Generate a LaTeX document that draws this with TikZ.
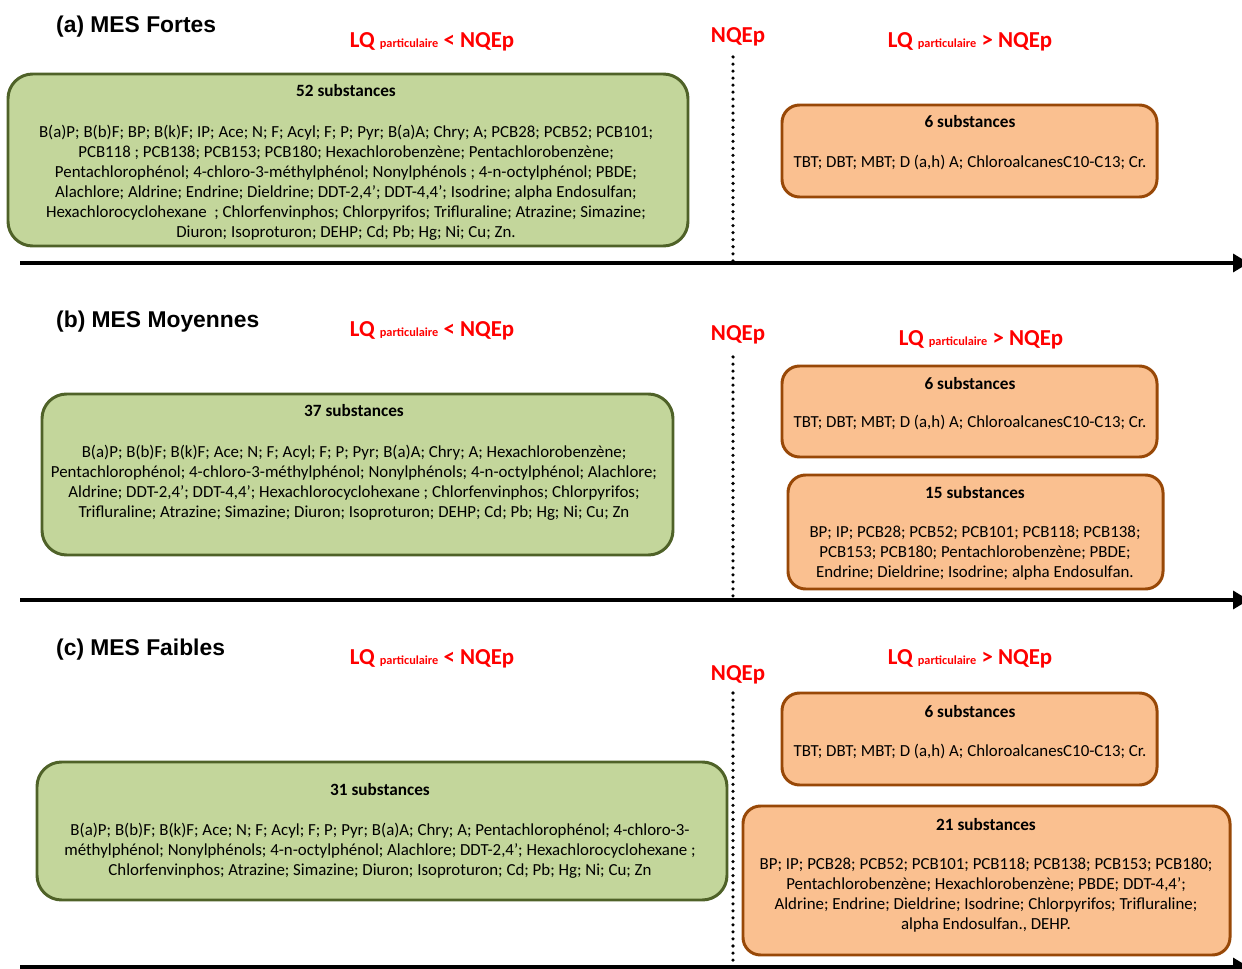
\documentclass[tikz,border=0pt]{standalone}
\usepackage{fontspec}
\setmainfont{Carlito}
\newfontfamily\headfont{Liberation Sans}
\usepackage{xcolor}
\usetikzlibrary{arrows.meta,positioning,fit}

\definecolor{boxgreen}{HTML}{C3D69B}
\definecolor{linegreen}{HTML}{4F6228}
\definecolor{boxorange}{HTML}{FAC090}
\definecolor{lineorange}{HTML}{984807}
\definecolor{lqred}{HTML}{FF0000}

\newcommand{\lqbelow}{LQ {\fontsize{7}{8}\selectfont particulaire} < NQEp}
\newcommand{\lqabove}{LQ {\fontsize{7}{8}\selectfont particulaire} > NQEp}
\newcommand{\sixsubst}{TBT; DBT; MBT; D (a,h) A; ChloroalcanesC10-C13; Cr.}

\begin{document}
\begin{tikzpicture}[
  x=0.02cm, y=-0.02cm,
  gbox/.style={draw=linegreen, fill=boxgreen, line width=1.7pt, rounded corners=14pt, inner sep=0pt},
  obox/.style={draw=lineorange, fill=boxorange, line width=1.7pt, rounded corners=10pt, inner sep=0pt},
  ttl/.style={font=\bfseries\fontsize{9.8}{11}\selectfont},
  body/.style={align=center, font=\fontsize{9.6}{11.4}\selectfont},
  head/.style={anchor=west, font=\headfont\bfseries\fontsize{13}{15}\selectfont},
  lqlbl/.style={text=lqred, font=\bfseries\fontsize{13}{15}\selectfont},
  axisarr/.style={-{Triangle[length=9pt,width=10pt]}, line width=2.8pt},
  limit/.style={dash pattern=on 0pt off 4pt, line cap=round, line width=2pt}
]
\useasboundingbox (0,0) rectangle (1242,969);

% (a) MES Fortes
\node[head] (ha) at (50,27) {(a) MES Fortes};
\node[lqlbl] (lqa1) at (432,42) {\lqbelow};
\node[lqlbl] (nqa) at (738,37) {NQEp};
\node[lqlbl] (lqa2) at (970,42) {\lqabove};
\coordinate (axa0) at (20,263);
\coordinate (axa1) at (1249,263);
\coordinate (dta0) at (733,57);
\coordinate (dta1) at (733,263);
\draw[limit] (dta0) -- (dta1);
\draw[axisarr] (axa0) -- (axa1);

\node[gbox, fit={(8,74) (688,246)}] (ga) {};
\node[ttl] (gat) at (346,91) {52 substances};
\node[body] (gab) at (346,183) {B(a)P; B(b)F; BP; B(k)F; IP; Ace; N; F; Acyl; F; P; Pyr; B(a)A; Chry; A; PCB28; PCB52; PCB101;\\
  PCB118 ; PCB138; PCB153; PCB180; Hexachlorobenzène; Pentachlorobenzène;\\
  Pentachlorophénol; 4-chloro-3-méthylphénol; Nonylphénols ; 4-n-octylphénol; PBDE;\\
  Alachlore; Aldrine; Endrine; Dieldrine; DDT-2,4’; DDT-4,4’; Isodrine; alpha Endosulfan;\\
  Hexachlorocyclohexane\ \ ; Chlorfenvinphos; Chlorpyrifos; Trifluraline; Atrazine; Simazine;\\
  Diuron; Isoproturon; DEHP; Cd; Pb; Hg; Ni; Cu; Zn.};

\node[obox, fit={(782,105) (1157,197)}] (oa) {};
\node[ttl] (oat) at (970,122) {6 substances};
\node[body] (oab) at (970,163) {\sixsubst};

% (b) MES Moyennes
\node[head] (hb) at (50,322) {(b) MES Moyennes};
\node[lqlbl] (lqb1) at (432,331) {\lqbelow};
\node[lqlbl] (nqb) at (738,335) {NQEp};
\node[lqlbl] (lqb2) at (981,340) {\lqabove};
\coordinate (axb0) at (20,600);
\coordinate (axb1) at (1249,600);
\coordinate (dtb0) at (733,357);
\coordinate (dtb1) at (733,600);
\draw[limit] (dtb0) -- (dtb1);
\draw[axisarr] (axb0) -- (axb1);

\node[gbox, fit={(42,394) (673,555)}] (gb) {};
\node[ttl] (gbt) at (354,411) {37 substances};
\node[body] (gbb) at (354,483) {B(a)P; B(b)F; B(k)F; Ace; N; F; Acyl; F; P; Pyr; B(a)A; Chry; A; Hexachlorobenzène;\\
  Pentachlorophénol; 4-chloro-3-méthylphénol; Nonylphénols; 4-n-octylphénol; Alachlore;\\
  Aldrine; DDT-2,4’; DDT-4,4’; Hexachlorocyclohexane ; Chlorfenvinphos; Chlorpyrifos;\\
  Trifluraline; Atrazine; Simazine; Diuron; Isoproturon; DEHP; Cd; Pb; Hg; Ni; Cu; Zn};

\node[obox, fit={(782,366) (1157,457)}] (ob) {};
\node[ttl] (obt) at (970,384) {6 substances};
\node[body] (obb) at (970,423) {\sixsubst};

\node[obox, fit={(788,475) (1163,589)}] (pb) {};
\node[ttl] (pbt) at (975,493) {15 substances};
\node[body] (pbb) at (975,553) {BP; IP; PCB28; PCB52; PCB101; PCB118; PCB138;\\
  PCB153; PCB180; Pentachlorobenzène; PBDE;\\
  Endrine; Dieldrine; Isodrine; alpha Endosulfan.};

% (c) MES Faibles
\node[head] (hc) at (50,650) {(c) MES Faibles};
\node[lqlbl] (lqc1) at (432,659) {\lqbelow};
\node[lqlbl] (nqc) at (738,675) {NQEp};
\node[lqlbl] (lqc2) at (970,659) {\lqabove};
\coordinate (axc0) at (20,967);
\coordinate (axc1) at (1249,967);
\coordinate (dtc0) at (733,693);
\coordinate (dtc1) at (733,967);
\draw[limit] (dtc0) -- (dtc1);
\draw[axisarr] (axc0) -- (axc1);

\node[gbox, fit={(37,762) (727,900)}] (gc) {};
\node[ttl] (gct) at (380,790) {31 substances};
\node[body] (gcb) at (380,851) {B(a)P; B(b)F; B(k)F; Ace; N; F; Acyl; F; P; Pyr; B(a)A; Chry; A; Pentachlorophénol; 4-chloro-3-\\
  méthylphénol; Nonylphénols; 4-n-octylphénol; Alachlore; DDT-2,4’; Hexachlorocyclohexane ;\\
  Chlorfenvinphos; Atrazine; Simazine; Diuron; Isoproturon; Cd; Pb; Hg; Ni; Cu; Zn};

\node[obox, fit={(782,693) (1157,785)}] (oc) {};
\node[ttl] (oct) at (970,712) {6 substances};
\node[body] (ocb) at (970,752) {\sixsubst};

\node[obox, fit={(743,806) (1230,955)}] (pc) {};
\node[ttl] (pct) at (986,825) {21 substances};
\node[body] (pcb) at (986,895) {BP; IP; PCB28; PCB52; PCB101; PCB118; PCB138; PCB153; PCB180;\\
  Pentachlorobenzène; Hexachlorobenzène; PBDE; DDT-4,4’;\\
  Aldrine; Endrine; Dieldrine; Isodrine; Chlorpyrifos; Trifluraline;\\
  alpha Endosulfan., DEHP.};
\end{tikzpicture}
\end{document}
